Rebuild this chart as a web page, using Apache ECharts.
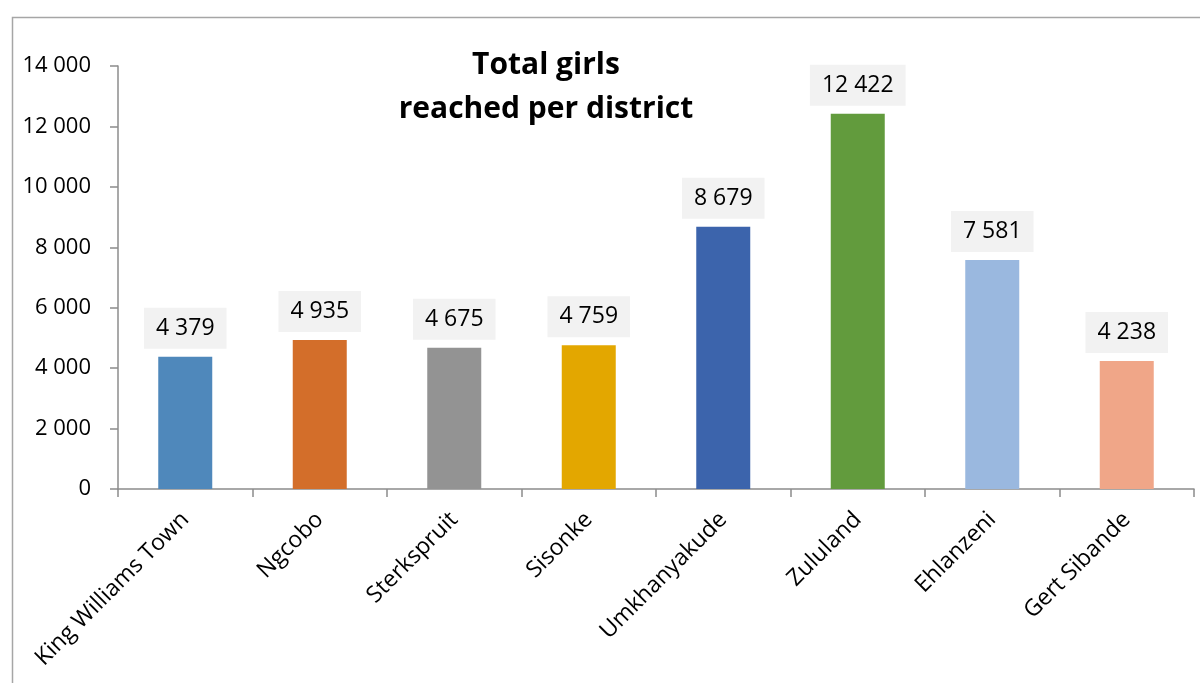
<!DOCTYPE html>
<html>
<head>
<meta charset="utf-8">
<script src="https://cdn.jsdelivr.net/npm/echarts@6/dist/echarts.min.js"></script>
<style>html,body{margin:0;padding:0;background:#fff;}#c{width:1200px;height:683px;}</style>
</head>
<body>
<div id="c"></div>
<script>
const categories = ["King Williams Town", "Ngcobo", "Sterkspruit", "Sisonke", "Umkhanyakude", "Zululand", "Ehlanzeni", "Gert Sibande"];
const values = [4379, 4935, 4675, 4759, 8679, 12422, 7581, 4238];
const barColors = ["#4F88BB", "#D36E2A", "#939393", "#E3A700", "#3C64AC", "#629B3D", "#9AB8DF", "#F0A688"];
const titleText = "Total girls\nreached per district";

function fmt(v) {
  return String(v).replace(/\B(?=(\d{3})+(?!\d))/g, " ");
}

const chart = echarts.init(document.getElementById('c'));
chart.setOption({
  backgroundColor: '#fff',
  animation: false,
  textStyle: { fontFamily: 'Open Sans' },
  graphic: [{
    type: 'rect', left: 10, top: 15,
    shape: { width: 1250, height: 720 },
    style: { fill: 'none', stroke: '#a6a6a6', lineWidth: 1.5 },
    silent: true
  }],
  title: {
    text: titleText, left: 541, top: 38, textAlign: 'center',
    textStyle: { fontFamily: 'Open Sans', fontWeight: 'bold', fontSize: 30, lineHeight: 44, color: '#000' }
  },
  grid: { left: 118, right: 6, top: 66, bottom: 194, containLabel: false },
  xAxis: {
    type: 'category', data: categories,
    axisLine: { lineStyle: { color: '#8c8c8c', width: 1.5 } },
    axisTick: { show: true, length: 8, alignWithLabel: false, lineStyle: { color: '#8c8c8c', width: 1.5 } },
    axisLabel: { rotate: 45, fontSize: 23, color: '#000', margin: 27, interval: 0 }
  },
  yAxis: {
    type: 'value', min: 0, max: 14000, interval: 2000,
    axisLine: { show: true, lineStyle: { color: '#8c8c8c', width: 1.5 } },
    axisTick: { show: true, length: 8, lineStyle: { color: '#8c8c8c', width: 1.5 } },
    splitLine: { show: false },
    axisLabel: { fontSize: 22, color: '#000', margin: 27, formatter: fmt }
  },
  series: [{
    type: 'bar',
    barWidth: 54,
    data: values.map((v, i) => ({ value: v, itemStyle: { color: barColors[i] } })),
    label: {
      show: true, position: 'top', distance: 8,
      formatter: p => fmt(p.value),
      fontSize: 23, lineHeight: 25, color: '#000', fontFamily: 'Open Sans',
      backgroundColor: '#f2f2f2', padding: [8, 12]
    }
  }]
});
</script>
</body>
</html>
